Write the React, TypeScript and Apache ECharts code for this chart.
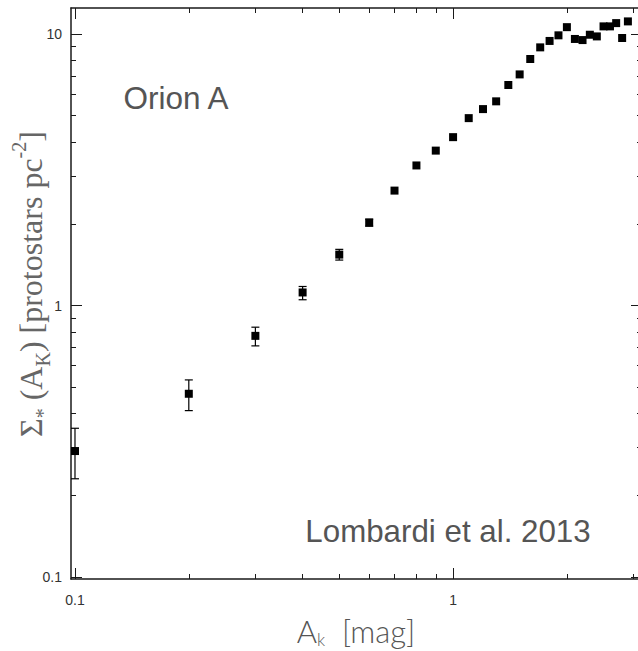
import React, { useEffect, useRef } from "react";
import * as echarts from "echarts";

// Data (A_K in mag, surface density in protostars pc^-2)
const akValues = [0.1, 0.2, 0.3, 0.4, 0.5, 0.6, 0.7, 0.8, 0.9, 1.0, 1.1, 1.2, 1.3, 1.4, 1.5, 1.6, 1.7, 1.8, 1.9, 2.0, 2.1, 2.2, 2.3, 2.4, 2.5, 2.6, 2.7, 2.8, 2.9];
const sigmaValues = [0.291, 0.473, 0.773, 1.117, 1.54, 2.02, 2.65, 3.28, 3.72, 4.17, 4.9, 5.29, 5.65, 6.49, 7.1, 8.09, 8.93, 9.43, 9.89, 10.6, 9.59, 9.5, 9.94, 9.8, 10.67, 10.67, 10.97, 9.67, 11.13];
// error bars (visible ones)
const errAk = [0.1, 0.2, 0.3, 0.4, 0.5, 0.6];
const errLow = [0.23, 0.41, 0.71, 1.05, 1.47, 1.96];
const errHigh = [0.353, 0.532, 0.832, 1.175, 1.61, 2.08];

const xMajorTicks = [0.1, 1];
const xMinorTicks = [0.2, 0.3, 0.4, 0.5, 0.6, 0.7, 0.8, 0.9, 2, 3];
const yMajorTicks = [0.1, 1, 10];
const yMinorTicks = [0.2, 0.3, 0.4, 0.5, 0.6, 0.7, 0.8, 0.9, 2, 3, 4, 5, 6, 7, 8, 9];

const X_MIN = 0.0976;
const X_MAX = 3.16;
const Y_MIN = 0.0983;
const Y_MAX = 12.47;

const AXIS_COLOR = "#1a1a1a";
const LABEL_COLOR = "#333";

function fmt(v: number) {
  if (Math.abs(v - 0.1) < 1e-9) return "0.1";
  return String(Math.round(v));
}

export default function App() {
  const ref = useRef<HTMLDivElement>(null);
  useEffect(() => {
    if (!ref.current) return;
    const chart = echarts.init(ref.current, null, { renderer: "svg" });

    const line = { show: true, lineStyle: { color: AXIS_COLOR, width: 1.5 } };
    const mkX = (position: string, ticks: number[], len: number, showLine: boolean, labels: boolean) => ({
      type: "log",
      position,
      min: X_MIN,
      max: X_MAX,
      logBase: 10,
      axisLine: showLine ? line : { show: false },
      axisTick: { show: true, inside: true, length: len, customValues: ticks, lineStyle: { color: AXIS_COLOR, width: 1 } },
      axisLabel: labels
        ? { show: true, customValues: xMajorTicks, formatter: (v: number) => fmt(v), margin: 14, fontSize: 14, color: LABEL_COLOR, fontFamily: "Liberation Sans" }
        : { show: false },
      splitLine: { show: false },
      minorTick: { show: false },
    });
    const mkY = (position: string, ticks: number[], len: number, showLine: boolean, labels: boolean) => ({
      type: "log",
      position,
      min: Y_MIN,
      max: Y_MAX,
      logBase: 10,
      axisLine: showLine ? line : { show: false },
      axisTick: { show: true, inside: true, length: len, customValues: ticks, lineStyle: { color: AXIS_COLOR, width: 1 } },
      axisLabel: labels
        ? { show: true, customValues: yMajorTicks, formatter: (v: number) => fmt(v), margin: 9, fontSize: 14, color: LABEL_COLOR, fontFamily: "Liberation Sans" }
        : { show: false },
      splitLine: { show: false },
      minorTick: { show: false },
    });

    const scatterData = akValues.map((x, i) => [x, sigmaValues[i]]);
    const errData = errAk.map((x, i) => [x, errLow[i], errHigh[i]]);

    chart.setOption({
      animation: false,
      backgroundColor: "#fff",
      grid: { left: 71, top: 8, width: 571, height: 571, containLabel: false },
      xAxis: [
        mkX("bottom", xMajorTicks, 11, true, true),
        mkX("bottom", xMinorTicks, 5, false, false),
        mkX("top", xMajorTicks, 11, true, false),
        mkX("top", xMinorTicks, 5, false, false),
      ],
      yAxis: [
        mkY("left", yMajorTicks, 11, true, true),
        mkY("left", yMinorTicks, 5, false, false),
        mkY("right", yMajorTicks, 11, true, false),
        mkY("right", yMinorTicks, 5, false, false),
      ],
      series: [
        {
          type: "custom",
          xAxisIndex: 0,
          yAxisIndex: 0,
          clip: false,
          encode: { x: 0, y: [1, 2] },
          data: errData,
          renderItem: (params: any, api: any) => {
            const x = api.value(0);
            const p1 = api.coord([x, api.value(1)]);
            const p2 = api.coord([x, api.value(2)]);
            const cap = 4;
            const style = { stroke: "#000", lineWidth: 1.2 };
            return {
              type: "group",
              children: [
                { type: "line", shape: { x1: p1[0], y1: p1[1], x2: p2[0], y2: p2[1] }, style },
                { type: "line", shape: { x1: p1[0] - cap, y1: p1[1], x2: p1[0] + cap, y2: p1[1] }, style },
                { type: "line", shape: { x1: p2[0] - cap, y1: p2[1], x2: p2[0] + cap, y2: p2[1] }, style },
              ],
            };
          },
        },
        {
          type: "scatter",
          xAxisIndex: 0,
          yAxisIndex: 0,
          symbol: "rect",
          symbolSize: 8,
          itemStyle: { color: "#000", opacity: 1 },
          data: scatterData,
          z: 5,
        },
      ],
      graphic: [
        {
          type: "text",
          x: 176,
          y: 98,
          style: { text: "Orion A", font: "31.5px 'Liberation Sans'", fill: "#555", align: "center", verticalAlign: "middle" },
        },
        {
          type: "text",
          x: 448,
          y: 531,
          style: { text: "Lombardi et al. 2013", font: "31.3px 'Liberation Sans'", fill: "#555", align: "center", verticalAlign: "middle" },
        },
        {
          type: "text",
          x: 31,
          y: 284,
          rotation: Math.PI / 2,
          style: {
            text: "{m|Σ}{s|*}{m| (A}{s|K}{m|) [protostars pc}{p|-2}{m|]}",
            align: "center",
            verticalAlign: "middle",
            fill: "#666",
            rich: {
              m: { fontFamily: "Liberation Serif", fontSize: 32, lineHeight: 44, fill: "#666", verticalAlign: "middle" },
              s: { fontFamily: "Liberation Serif", fontSize: 20, lineHeight: 22, fill: "#666", verticalAlign: "bottom" },
              p: { fontFamily: "Liberation Serif", fontSize: 20, lineHeight: 30, fill: "#666", verticalAlign: "top" },
            },
          },
        },
        {
          type: "text",
          x: 356,
          y: 631,
          style: {
            text: "{m|A}{s|k}{m|  [mag]}",
            align: "center",
            verticalAlign: "middle",
            fill: "#555",
            rich: {
              m: { fontFamily: "Lato", fontWeight: 300, fontSize: 31, lineHeight: 34, fill: "#555", verticalAlign: "middle" },
              s: { fontFamily: "Lato", fontWeight: 300, fontSize: 17, lineHeight: 16, fill: "#555", verticalAlign: "bottom" },
            },
          },
        },
      ],
    });
    return () => chart.dispose();
  }, []);

  return (
    <div style={{ position: "fixed", left: 0, top: 0, width: 638, height: 651, overflow: "hidden", background: "#fff" }}>
      <div ref={ref} style={{ width: 648, height: 651 }} />
    </div>
  );
}
